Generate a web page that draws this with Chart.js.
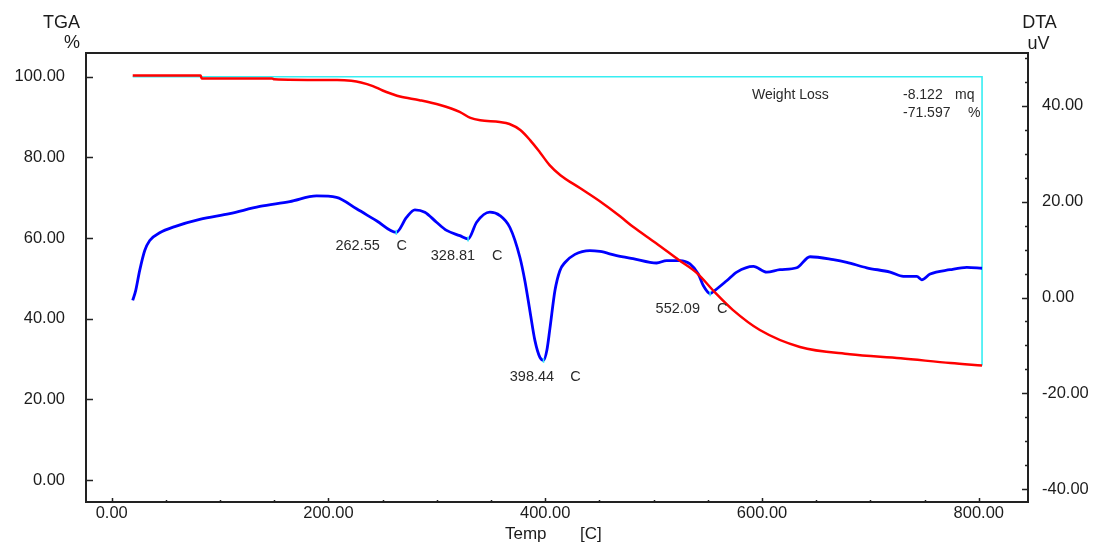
<!DOCTYPE html>
<html>
<head>
<meta charset="utf-8">
<title>TGA / DTA</title>
<script src="https://cdn.jsdelivr.net/npm/chart.js@4.4.1/dist/chart.umd.min.js"></script>
<style>
  html, body { margin: 0; padding: 0; background: #ffffff; }
  #wrap { width: 1103px; height: 547px; position: relative; }
</style>
</head>
<body>
<div id="wrap"><canvas id="thermo" width="1103" height="547"></canvas></div>
<script>
// ---- TGA curve (temperature in C, mass in %) ----
const tgaTemp  = [19.4, 82, 83, 148, 150, 208, 221, 230, 241, 250, 258, 266, 284, 303, 321, 331, 340, 358, 367,
                  377, 386, 395, 404, 414, 432, 451, 469, 481, 502, 523, 540, 557, 573, 598, 635, 681, 728, 774, 803];
const tgaValue = [100.35, 100.35, 99.6, 99.6, 99.4, 99.2, 99.0, 98.6, 97.7, 96.6, 95.8, 95.1, 94.2, 93.0, 91.3, 89.8, 89.2, 88.8, 88.3,
                  86.8, 84.3, 81.3, 78.1, 75.6, 72.4, 69.0, 65.4, 62.8, 58.8, 54.6, 51.3, 46.4, 42.2, 37.2, 33.0, 31.2, 30.2, 29.0, 28.4];

// ---- DTA curve (temperature in C, signal in uV) ----
const dtaTemp  = [19.4, 22.2, 25.8, 30.5, 35.1, 44.3, 58.2, 81.2, 108.9, 136.6, 164.3, 189.0, 207.4, 225.9, 244.3,
                  262.55, 272.0, 279.7, 288.9, 299.7, 309.0, 321.2, 328.81, 336.7, 348.9, 358.2, 367.4, 376.6, 381.2,
                  385.8, 390.5, 395.1, 398.44, 401.5, 404.3, 409.0, 413.5, 418.2, 427.4, 441.2, 450.5, 465.9, 481.0,
                  502.8, 512.0, 524.3, 533.5, 541.2, 545.8, 552.09, 556.6, 567.4, 576.7, 592.0, 604.3, 616.6, 632.0,
                  644.3, 665.8, 678.2, 696.6, 718.2, 730.4, 742.8, 747.4, 755.1, 773.5, 789.0, 803.0];
const dtaValue = [-0.6, 1.5, 5.6, 9.8, 11.9, 13.5, 14.8, 16.3, 17.5, 19.0, 20.0, 21.2, 20.9, 18.5, 16.0,
                  13.6, 16.7, 18.3, 17.8, 15.7, 14.0, 12.9, 12.2, 15.7, 17.8, 17.1, 14.6, 8.4, 3.5,
                  -2.7, -9.0, -12.5, -13.1, -11.0, -6.5, 1.5, 5.6, 7.3, 9.0, 9.8, 9.6, 8.75, 8.1,
                  7.2, 7.7, 7.7, 7.0, 4.9, 2.5, 0.8, 1.5, 3.5, 5.3, 6.5, 5.3, 5.8, 6.2,
                  8.5, 7.9, 7.35, 6.2, 5.3, 4.4, 4.4, 3.7, 4.9, 5.8, 6.3, 6.1];

// ---- DTA peak minima ----
const peakTemp  = [262.55, 328.81, 398.44, 552.09];
const peakDTA   = [13.6, 12.2, -13.1, 0.8];
const peakUnit  = 'C';

// ---- weight-loss result ----
const lossLabel   = 'Weight Loss';
const lossMass    = ['-8.122', 'mq'];
const lossPercent = ['-71.597', '%'];
// bracket drawn from the first to the last TGA reading
const wlTemp  = [tgaTemp[0], tgaTemp[tgaTemp.length - 1], tgaTemp[tgaTemp.length - 1]];
const wlValue = [100, 100, tgaValue[tgaValue.length - 1]];

// ---- tick labels ----
const tempTicks  = [0, 200, 400, 600, 800];
const tgaTicks   = [0, 20, 40, 60, 80, 100];
const dtaTicks   = [-40, -20, 0, 20, 40];
const tempMinorStep = 50;
const dtaMinorStep  = 5;

const FONT = '"Liberation Sans", Arial, sans-serif';
const INK = '#1c1c1c';
const CYAN = '#36eef2';

const pts = (xs, ys) => xs.map((x, i) => ({ x: x, y: ys[i] }));

// label placement next to each peak (pixel offsets: number centre, unit centre, vertical)
const peakLabelOffsets = [
  { num: -38.6, unit: 5.6,  dy: 14.1 },
  { num: -15.1, unit: 29.1, dy: 16.7 },
  { num: -11.6, unit: 32.0, dy: 16.3 },
  { num: -32.3, unit: 12.2, dy: 15.4 }
];

const thermoFrame = {
  id: 'thermoFrame',
  afterDatasetsDraw(chart) {
    const { ctx, chartArea: a, scales } = chart;
    const xs = scales.x, yl = scales.yTGA, yr = scales.yDTA;
    ctx.save();
    ctx.strokeStyle = '#222222';
    ctx.lineWidth = 2;
    ctx.strokeRect(a.left, a.top, a.right - a.left, a.bottom - a.top);

    ctx.lineWidth = 1.5;
    ctx.beginPath();
    // left axis: inward major ticks
    tgaTicks.forEach(v => {
      const y = Math.round(yl.getPixelForValue(v)) + 0.5;
      ctx.moveTo(a.left, y); ctx.lineTo(a.left + 7, y);
    });
    // right axis: major and minor ticks
    for (let v = -40; v <= 50; v += dtaMinorStep) {
      const y = Math.round(yr.getPixelForValue(v)) + 0.5;
      const len = (v % 20 === 0) ? 6 : 3;
      ctx.moveTo(a.right - len, y); ctx.lineTo(a.right + 1, y);
    }
    // bottom axis: major and minor ticks
    for (let v = 0; v <= 800; v += tempMinorStep) {
      const x = Math.round(xs.getPixelForValue(v)) + 0.5;
      const len = (v % 200 === 0) ? 4 : 2;
      ctx.moveTo(x, a.bottom); ctx.lineTo(x, a.bottom - len);
    }
    ctx.stroke();

    // peak annotations
    ctx.fillStyle = '#2a2a2a';
    ctx.font = '14.5px ' + FONT;
    ctx.textAlign = 'center';
    ctx.textBaseline = 'middle';
    peakTemp.forEach((t, i) => {
      const px = xs.getPixelForValue(t);
      const py = yr.getPixelForValue(peakDTA[i]);
      const o = peakLabelOffsets[i];
      ctx.fillText(t.toFixed(2), px + o.num, py + o.dy);
      ctx.fillText(peakUnit, px + o.unit, py + o.dy);
    });

    // weight-loss readout
    ctx.font = '14px ' + FONT;
    ctx.textAlign = 'left';
    ctx.textBaseline = 'alphabetic';
    ctx.fillText(lossLabel, 752, 99);
    ctx.fillText(lossMass[0], 903, 99);
    ctx.fillText(lossMass[1], 955, 99);
    ctx.fillText(lossPercent[0], 903, 117);
    ctx.fillText(lossPercent[1], 968, 117);

    // axis titles
    ctx.fillStyle = INK;
    ctx.font = '18px ' + FONT;
    ctx.textAlign = 'right';
    ctx.fillText('TGA', 80, 28);
    ctx.fillText('%', 80, 48);
    ctx.textAlign = 'center';
    ctx.fillText('DTA', 1039.5, 28);
    ctx.fillText('uV', 1038.5, 49);
    ctx.font = '17px ' + FONT;
    ctx.textAlign = 'left';
    ctx.fillText('Temp', 505, 539);
    ctx.fillText('[C]', 580, 539);
    ctx.restore();
  }
};

const tickFont = { family: FONT, size: 16.5 };

new Chart(document.getElementById('thermo').getContext('2d'), {
  type: 'line',
  data: {
    datasets: [
      {
        label: 'TGA', data: pts(tgaTemp, tgaValue), yAxisID: 'yTGA',
        borderColor: '#ff0000', borderWidth: 2.5, pointRadius: 0,
        cubicInterpolationMode: 'monotone', fill: false, order: 1
      },
      {
        label: 'DTA', data: pts(dtaTemp, dtaValue), yAxisID: 'yDTA',
        borderColor: '#0000ff', borderWidth: 2.8, pointRadius: 0,
        cubicInterpolationMode: 'monotone', fill: false, order: 2
      },
      {
        label: 'Weight loss', data: pts(wlTemp, wlValue), yAxisID: 'yTGA',
        borderColor: CYAN, borderWidth: 1.6, pointRadius: 0, tension: 0, fill: false, order: 3
      },
      {
        label: 'Peaks', type: 'scatter', data: pts(peakTemp, peakDTA), yAxisID: 'yDTA',
        pointStyle: 'line', rotation: 90, pointRadius: 2.5, borderColor: CYAN, borderWidth: 1.5,
        showLine: false, order: 0
      }
    ]
  },
  options: {
    responsive: false,
    animation: false,
    layout: { padding: { top: 53, left: 0, right: 0, bottom: 0 } },
    plugins: { legend: { display: false }, tooltip: { enabled: false } },
    scales: {
      x: {
        type: 'linear', position: 'bottom', min: -23.7, max: 845.4,
        grid: { display: false, drawTicks: false }, border: { display: false },
        afterBuildTicks: s => { s.ticks = tempTicks.map(v => ({ value: v })); },
        afterFit: s => { s.height = 45; },
        ticks: { font: tickFont, color: INK, padding: 2, maxRotation: 0, autoSkip: false,
                 callback: v => Number(v).toFixed(2) }
      },
      yTGA: {
        type: 'linear', position: 'left', min: -5.45, max: 105.9,
        grid: { display: false, drawTicks: false }, border: { display: false },
        afterBuildTicks: s => { s.ticks = tgaTicks.map(v => ({ value: v })); },
        afterFit: s => { s.width = 86; },
        ticks: { font: tickFont, color: INK, padding: 21, autoSkip: false,
                 callback: v => Number(v).toFixed(2) }
      },
      yDTA: {
        type: 'linear', position: 'right', min: -42.65, max: 51.0,
        grid: { display: false, drawTicks: false }, border: { display: false },
        afterBuildTicks: s => { s.ticks = dtaTicks.map(v => ({ value: v })); },
        afterFit: s => { s.width = 75; },
        ticks: { font: tickFont, color: INK, padding: 14, autoSkip: false,
                 callback: v => Number(v).toFixed(2) }
      }
    }
  },
  plugins: [thermoFrame]
});
</script>
</body>
</html>
